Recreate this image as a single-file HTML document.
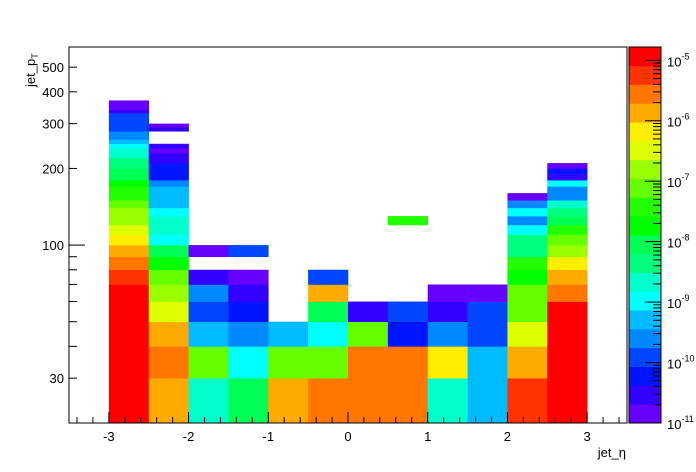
<!DOCTYPE html>
<html><head><meta charset="utf-8">
<style>
html,body{margin:0;padding:0;background:#fff;}
svg{display:block;font-family:"Liberation Sans",sans-serif;}
</style></head>
<body>
<svg id="c" width="696" height="472" viewBox="0 0 696 472"></svg>
<script>
// x bins (jet_eta), bin width 0.5
const xEdges = [-3.5,-3,-2.5,-2,-1.5,-1,-0.5,0,0.5,1,1.5,2,2.5,3,3.5];
// cells per column: [ptLow, ptHigh, log10 value]
const col0 = [[20,70,-4.94],[70,80,-5.25],[80,90,-5.56],[90,100,-5.87],[100,110,-6.18],[110,120,-6.49],[120,140,-6.8],[140,150,-7.11],[150,170,-7.42],[170,180,-7.73],[180,190,-8.05],[190,200,-8.05],[200,220,-8.36],[220,240,-8.67],[240,250,-8.98],[250,260,-9.29],[260,280,-9.6],[280,330,-9.91],[330,340,-10.53],[340,370,-10.84]];
const col1 = [[20,30,-5.87],[30,40,-5.56],[40,50,-5.87],[50,60,-6.49],[60,70,-6.8],[70,80,-7.11],[80,90,-7.73],[90,100,-8.05],[100,110,-8.98],[110,130,-8.67],[130,140,-8.98],[140,170,-9.29],[170,180,-9.6],[180,210,-10.22],[210,230,-10.53],[230,240,-10.84],[240,250,-10.53],[280,290,-10.53],[290,300,-10.84]];
const col2 = [[20,30,-8.67],[30,40,-7.11],[40,50,-9.29],[50,60,-9.91],[60,70,-9.6],[70,80,-10.53],[90,100,-10.84]];
const col3 = [[20,30,-8.05],[30,40,-8.98],[40,50,-9.6],[50,60,-10.22],[60,70,-10.53],[70,80,-10.84],[90,100,-9.91]];
const col4 = [[20,30,-5.87],[30,40,-7.11],[40,50,-9.29]];
const col5 = [[20,30,-5.56],[30,40,-7.11],[40,50,-8.98],[50,60,-8.05],[60,70,-5.87],[70,80,-9.91]];
const col6 = [[20,40,-5.56],[40,50,-7.11],[50,60,-10.53]];
const col7 = [[20,40,-5.56],[40,50,-10.22],[50,60,-9.91],[120,130,-7.42]];
const col8 = [[20,30,-8.67],[30,40,-6.18],[40,50,-9.6],[50,60,-10.53],[60,70,-10.84]];
const col9 = [[20,30,-9.29],[30,40,-9.29],[40,50,-9.91],[50,60,-9.91],[60,70,-10.84]];
const col10 = [[20,30,-5.25],[30,40,-5.87],[40,50,-6.49],[50,70,-7.11],[70,80,-7.73],[80,90,-7.42],[90,110,-8.36],[110,120,-8.98],[120,130,-9.6],[130,140,-8.98],[140,150,-9.6],[150,160,-10.84]];
const col11 = [[20,60,-4.94],[60,70,-5.56],[70,80,-5.87],[80,90,-6.18],[90,100,-6.8],[100,110,-7.11],[110,120,-7.42],[120,130,-8.05],[130,140,-8.36],[140,150,-8.67],[150,170,-9.6],[170,180,-8.98],[180,190,-10.53],[190,200,-10.22],[200,210,-10.84]];
const columns = [[],col0,col1,col2,col3,col4,col5,col6,col7,col8,col9,col10,col11,[]];
const yTickLabels = [30,100,200,300,400,500];
const yMinorTicks = [20,30,40,50,60,70,80,90,100,200,300,400,500];
const xTickLabels = [-3,-2,-1,0,1,2,3];
const zTickExps = [-11,-10,-9,-8,-7,-6,-5];
const palette = ["#6600ff","#3300ff","#0014ff","#0046ff","#0088ff","#00bbff","#00ffff","#00ffcc","#00ff7f","#00ff55","#00ff00","#22ff00","#66ff00","#99ff00","#ddff00","#ffee00","#ffaa00","#ff7700","#ff3300","#ff0000"];

const L=69,R=627,T=47,B=423, X0=-3.5,X1=3.5, Y0=20,Y1=600;
const Z0=-11, Z1=-4.78;
const PL=629,PR=661;
const NS="http://www.w3.org/2000/svg";
const svg=document.getElementById('c');
function sx(v){return L+(v-X0)/(X1-X0)*(R-L);}
function sy(v){return B-(Math.log10(v)-Math.log10(Y0))/(Math.log10(Y1)-Math.log10(Y0))*(B-T);}
function sz(e){return B-(e-Z0)/(Z1-Z0)*(B-T);}
function col(e){let i=Math.floor((e-Z0)/(Z1-Z0)*palette.length);return palette[Math.max(0,Math.min(palette.length-1,i))];}
function mk(tag,attrs){const el=document.createElementNS(NS,tag);for(const k in attrs)el.setAttribute(k,attrs[k]);svg.appendChild(el);return el;}

columns.forEach((cells,i)=>{
  cells.forEach(c=>{
    const x0=sx(xEdges[i]),x1=sx(xEdges[i+1]),y0=sy(c[1]),y1=sy(c[0]);
    const r=mk('rect',{x:x0,y:y0,width:x1-x0+0.3,height:y1-y0+0.3,fill:col(c[2])});
    
    
  });
});
const fr=mk('rect',{x:L,y:T,width:R-L,height:B-T,fill:'none',stroke:'#000','stroke-width':1});


for(let k=-17;k<=17;k++){
  const v=k*0.2; const x=sx(v); const major=(k%5===0);
  mk('line',{x1:x,x2:x,y1:B,y2:B-(major?11:6),stroke:'#000'});
}
xTickLabels.forEach(v=>{
  const t=mk('text',{x:sx(v),y:441,'font-size':13,'text-anchor':'middle'});
  t.textContent=v;
  
  
});
yMinorTicks.forEach(v=>{
  const y=sy(v); const big=(v===100);
  mk('line',{x1:L,x2:L+(big?16:8),y1:y,y2:y,stroke:'#000'});
});
yTickLabels.forEach(v=>{
  const t=mk('text',{x:64,y:sy(v)+5,'font-size':13,'text-anchor':'end'});
  t.textContent=v;
  
  
});
const xt=mk('text',{x:626,y:457,'font-size':13,'text-anchor':'end'});
xt.innerHTML='jet_η';


const yt=mk('text',{transform:'translate(35,87) rotate(-90)','font-size':13,'text-anchor':'start'});
yt.innerHTML='jet_p<tspan font-size="9" dy="3">T</tspan>';


palette.forEach((c,i)=>{
  const e0=Z0+i*(Z1-Z0)/palette.length, e1=Z0+(i+1)*(Z1-Z0)/palette.length;
  const r=mk('rect',{x:PL,y:sz(e1),width:PR-PL,height:sz(e0)-sz(e1)+0.3,fill:c});
  
  
});
const pf=mk('rect',{x:PL,y:T,width:PR-PL,height:B-T,fill:'none',stroke:'#000'});


for(let d=-11;d<=-5;d++){
  for(let m=1;m<=9;m++){
    const e=d+Math.log10(m); if(e>Z1)break;
    const y=sz(e);
    mk('line',{x1:PR,x2:PR-(m===1?16:8),y1:y,y2:y,stroke:'#000'});
  }
}
zTickExps.forEach(e=>{
  const t=mk('text',{x:667,y:sz(e)+6,'font-size':13});
  t.innerHTML='10<tspan font-size="9" dy="-7">'+e+'</tspan>';
  
  
});
</script>
</body></html>
